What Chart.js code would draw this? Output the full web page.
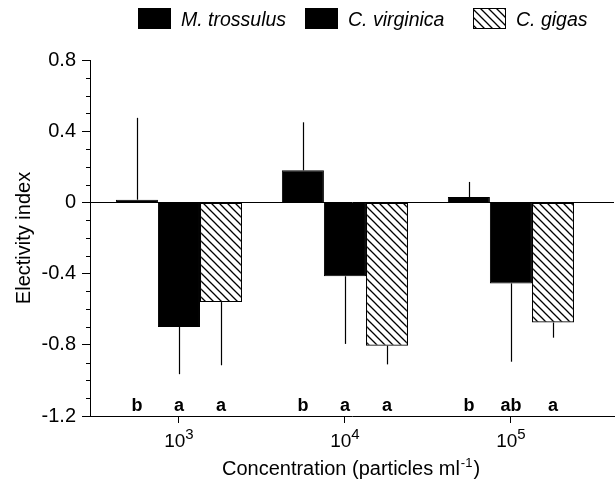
<!DOCTYPE html>
<html><head><meta charset="utf-8">
<script src="https://cdn.jsdelivr.net/npm/chart.js@4.4.1/dist/chart.umd.min.js"></script>
<style>html,body{margin:0;padding:0;background:#fff;}#wrap{width:616px;height:485px;position:relative;}canvas{display:block;}</style>
</head><body><div id="wrap"><canvas id="c" width="616" height="485" style="width:616px;height:485px"></canvas></div>
<script>
// ---- data ----
const concentrations = ['10^3', '10^4', '10^5'];
const concPositions = [1, 2, 3];           // log10 of concentration
const tickBase = ['10', '10', '10'];
const tickExp = ['3', '4', '5'];
const speciesNames = ['M. trossulus', 'C. virginica', 'C. gigas'];
const mTrossulus = [0.015, 0.18, 0.03];
const mTrossulusErr = [0.46, 0.27, 0.085];
const cVirginica = [-0.70, -0.415, -0.455];
const cVirginicaErr = [0.265, 0.38, 0.44];
const cGigas = [-0.56, -0.805, -0.675];
const cGigasErr = [0.355, 0.105, 0.085];
const mTrossulusSig = ['b', 'b', 'b'];
const cVirginicaSig = ['a', 'a', 'ab'];
const cGigasSig = ['a', 'a', 'a'];
const yTicks = [0.8, 0.4, 0, -0.4, -0.8, -1.2];
const yTitle = 'Electivity index';
const xTitle = 'Concentration (particles ml';
const xTitleSup = '-1';
const xTitleEnd = ')';

const FONT = "'Liberation Sans', Arial, Helvetica, sans-serif";

function hatchPattern() {
  const s = 8, c = document.createElement('canvas');
  c.width = s; c.height = s;
  const g = c.getContext('2d');
  g.fillStyle = '#fff'; g.fillRect(0, 0, s, s);
  g.strokeStyle = '#000'; g.lineWidth = 1.3;
  g.beginPath();
  g.moveTo(0, 0); g.lineTo(s, s);
  g.moveTo(-2, s - 2); g.lineTo(2, s + 2);
  g.moveTo(s - 2, -2); g.lineTo(s + 2, 2);
  g.stroke();
  return c.getContext('2d').createPattern(c, 'repeat');
}
const hatch = hatchPattern();
const pts = vals => vals.map((v, i) => ({ x: concPositions[i], y: v }));

const extras = {
  id: 'extras',
  afterDatasetsDraw(chart) {
    const ctx = chart.ctx, ys = chart.scales.y;
    ctx.save();
    ctx.strokeStyle = '#000'; ctx.lineWidth = 1.2;
    chart.data.datasets.forEach((ds, di) => {
      const meta = chart.getDatasetMeta(di);
      meta.data.forEach((el, i) => {
        const v = ds.data[i].y, e = ds.err[i];
        const end = v >= 0 ? v + e : v - e;
        ctx.beginPath();
        ctx.moveTo(Math.round(el.x) + 0.5, el.y);
        ctx.lineTo(Math.round(el.x) + 0.5, ys.getPixelForValue(end));
        ctx.stroke();
        ctx.fillStyle = '#000';
        ctx.font = 'bold 18px ' + FONT;
        ctx.textAlign = 'center'; ctx.textBaseline = 'alphabetic';
        ctx.fillText(ds.sig[i], el.x, 411);
      });
    });
    ctx.restore();
  },
  afterDraw(chart) {
    const ctx = chart.ctx, ys = chart.scales.y, xs = chart.scales.x, a = chart.chartArea;
    ctx.save();
    ctx.strokeStyle = '#000'; ctx.lineWidth = 1;
    // minor y ticks
    for (let k = -12; k <= 8; k++) {
      if (k % 4 === 0) continue;
      const y = Math.round(ys.getPixelForValue(k / 10)) + 0.5;
      ctx.beginPath(); ctx.moveTo(a.left - 4, y); ctx.lineTo(a.left, y); ctx.stroke();
    }
    ctx.fillStyle = '#000';
    ctx.textBaseline = 'alphabetic';
    // x tick labels with superscripts
    concPositions.forEach((p, i) => {
      const x = xs.getPixelForValue(p);
      ctx.font = '19px ' + FONT;
      const w1 = ctx.measureText(tickBase[i]).width;
      ctx.font = '15px ' + FONT;
      const w2 = ctx.measureText(tickExp[i]).width;
      const x0 = x - (w1 + w2) / 2;
      ctx.textAlign = 'left';
      ctx.font = '19px ' + FONT;
      ctx.fillText(tickBase[i], x0, 447);
      ctx.font = '15px ' + FONT;
      ctx.fillText(tickExp[i], x0 + w1, 439);
    });
    // x title
    ctx.font = '20px ' + FONT;
    const t1 = ctx.measureText(xTitle).width, t3 = ctx.measureText(xTitleEnd).width;
    ctx.font = '13px ' + FONT;
    const t2 = ctx.measureText(xTitleSup).width;
    let tx = 350 - (t1 + t2 + t3) / 2;
    ctx.textAlign = 'left';
    ctx.font = '20px ' + FONT; ctx.fillText(xTitle, tx, 475);
    ctx.font = '13px ' + FONT; ctx.fillText(xTitleSup, tx + t1 + 1, 467);
    ctx.font = '20px ' + FONT; ctx.fillText(xTitleEnd, tx + t1 + t2 + 2, 475);
    // legend
    const boxX = [138, 305, 473];
    chart.data.datasets.forEach((ds, i) => {
      ctx.fillStyle = ds.backgroundColor;
      ctx.fillRect(boxX[i], 8, 33, 21);
      ctx.strokeStyle = '#000'; ctx.lineWidth = 1;
      ctx.strokeRect(boxX[i] + 0.5, 8.5, 32, 20);
      ctx.fillStyle = '#000';
      ctx.font = 'italic 19.5px ' + FONT;
      ctx.textAlign = 'left';
      ctx.fillText(ds.label, boxX[i] + 43, 26);
    });
    ctx.restore();
  }
};

new Chart(document.getElementById('c'), {
  type: 'bar',
  data: {
    datasets: [
      { label: speciesNames[0], data: pts(mTrossulus), err: mTrossulusErr, sig: mTrossulusSig,
        backgroundColor: '#000', borderColor: '#000', borderWidth: 1 },
      { label: speciesNames[1], data: pts(cVirginica), err: cVirginicaErr, sig: cVirginicaSig,
        backgroundColor: '#000', borderColor: '#000', borderWidth: 1 },
      { label: speciesNames[2], data: pts(cGigas), err: cGigasErr, sig: cGigasSig,
        backgroundColor: hatch, borderColor: '#000', borderWidth: 1.2, borderSkipped: false }
    ]
  },
  options: {
    responsive: false, animation: false, devicePixelRatio: 1,
    categoryPercentage: 0.76, barPercentage: 1.0,
    layout: { padding: { top: 60, right: 2, left: 0, bottom: 0 } },
    plugins: { legend: { display: false }, tooltip: { enabled: false } },
    scales: {
      x: {
        type: 'linear', min: 0.464, max: 3.621, offset: false,
        afterBuildTicks: s => { s.ticks = concPositions.map(v => ({ value: v })); },
        ticks: { callback: () => '', color: '#000' },
        grid: { offset: false, drawOnChartArea: false, drawTicks: true, tickLength: 7, tickColor: '#000', color: '#000' },
        border: { display: true, color: '#000', width: 1 },
        afterFit: s => { s.height = 69; }
      },
      y: {
        min: -1.2, max: 0.8,
        afterBuildTicks: s => { s.ticks = yTicks.map(v => ({ value: v })); },
        ticks: { callback: v => v === 0 ? '0' : Number(v).toFixed(1), color: '#000', padding: 6,
                 font: { family: FONT, size: 20 } },
        grid: { color: c => (c.tick && c.tick.value === 0) ? '#000' : 'rgba(0,0,0,0)',
                tickColor: '#000', tickLength: 8, lineWidth: 1 },
        border: { display: true, color: '#000', width: 1 },
        title: { display: true, text: yTitle, color: '#000', font: { family: FONT, size: 20 },
                 padding: { top: 12, bottom: 0 } },
        afterFit: s => { s.width = 90; }
      }
    }
  },
  plugins: [extras]
});
</script></body></html>
